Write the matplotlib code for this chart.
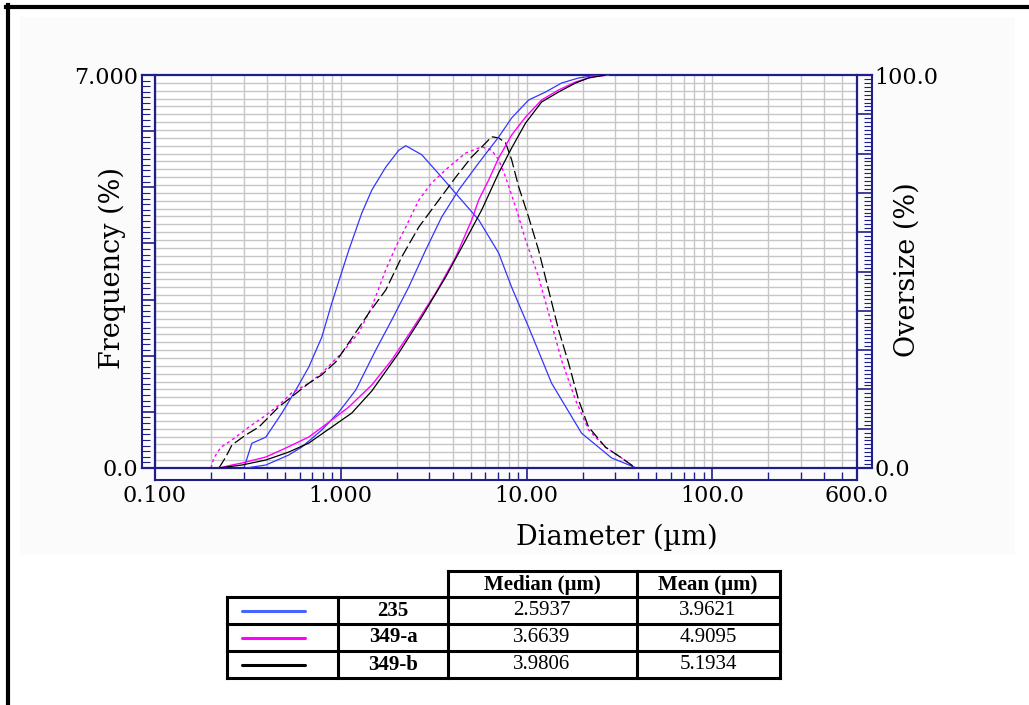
import numpy as np
import matplotlib
matplotlib.use("Agg")
import matplotlib.pyplot as plt
from matplotlib.lines import Line2D
from matplotlib.patches import Rectangle
from matplotlib.ticker import MultipleLocator, FixedFormatter, NullFormatter

# ---- data ----
blue_freq_d = [0.301, 0.332, 0.395, 0.482, 0.573, 0.673, 0.790, 0.895, 1.104, 1.297, 1.468,
               1.746, 2.051, 2.237, 2.726, 3.491, 4.310, 5.521, 7.071, 8.307, 10.25, 13.63,
               19.76, 28.64, 39.03]
blue_freq = [0.0, 0.44, 0.55, 0.98, 1.39, 1.80, 2.33, 2.94, 3.88, 4.54, 4.95,
             5.36, 5.66, 5.74, 5.58, 5.18, 4.83, 4.42, 3.83, 3.22, 2.51, 1.51,
             0.62, 0.18, 0.0]
blue_cum_d = [0.309, 0.395, 0.525, 0.617, 0.790, 0.976, 1.204, 1.543, 1.880, 2.321, 2.864,
              3.491, 4.310, 5.521, 7.071, 8.307, 10.25, 12.65, 15.42, 19.04, 24.38]
blue_cum = [0.0, 0.76, 3.31, 5.34, 9.67, 14.25, 19.85, 30.03, 37.66, 46.06, 55.47,
            63.87, 70.74, 77.61, 84.22, 89.06, 93.64, 95.67, 97.96, 99.24, 100.0]

mag_freq_d = [0.200, 0.2075, 0.2264, 0.2594, 0.3202, 0.3953, 0.4642, 0.5453, 0.6730, 0.7903,
              0.8946, 1.0125, 1.250, 1.468, 1.746, 1.976, 2.237, 2.627, 3.084, 3.807, 4.699,
              5.730, 6.484, 7.071, 7.712, 8.728, 9.876, 11.60, 13.13, 15.42, 18.34, 21.54,
              26.59, 32.42, 38.55]
mag_freq = [0.0, 0.18, 0.37, 0.50, 0.73, 0.94, 1.12, 1.34, 1.51, 1.69,
            1.87, 2.05, 2.41, 2.87, 3.53, 3.94, 4.29, 4.77, 5.08, 5.36, 5.61,
            5.72, 5.66, 5.49, 5.18, 4.65, 4.06, 3.40, 2.76, 1.92, 1.21, 0.68,
            0.37, 0.18, 0.0]
mag_cum_d = [0.2209, 0.2594, 0.2936, 0.3953, 0.5063, 0.6730, 0.8946, 1.104, 1.468, 1.880,
             2.409, 3.241, 4.153, 5.063, 5.521, 6.249, 7.071, 8.307, 9.876, 12.04, 14.86,
             18.34, 22.36, 27.60]
mag_cum = [0.0, 0.76, 1.27, 2.80, 5.09, 7.89, 12.21, 15.52, 21.12, 27.48,
           35.11, 44.53, 53.69, 63.10, 68.19, 73.28, 78.88, 84.73, 89.31, 93.64, 96.18,
           98.22, 99.49, 100.0]

blk_freq_d = [0.2209, 0.2408, 0.2594, 0.3085, 0.3624, 0.4102, 0.4642, 0.5453, 0.6730, 0.7903,
              0.9400, 1.104, 1.415, 1.746, 2.128, 2.627, 3.364, 4.153, 5.063, 6.021, 6.484,
              7.071, 7.712, 8.307, 9.058, 10.25, 11.60, 13.13, 14.86, 16.82, 19.04, 21.54,
              26.59, 32.42, 38.55]
blk_freq = [0.0, 0.20, 0.41, 0.59, 0.73, 0.91, 1.09, 1.27, 1.51, 1.66,
            1.89, 2.23, 2.76, 3.17, 3.76, 4.29, 4.77, 5.18, 5.54, 5.79, 5.90,
            5.88, 5.79, 5.49, 5.01, 4.47, 3.88, 3.17, 2.46, 1.87, 1.21, 0.73,
            0.37, 0.18, 0.0]
blk_cum_d = [0.2209, 0.2936, 0.3953, 0.5254, 0.6730, 0.8946, 1.146, 1.468, 2.051, 2.726,
             3.668, 4.699, 5.730, 7.071, 8.307, 9.876, 12.04, 14.86, 18.34, 21.54, 26.59]
blk_cum = [0.0, 0.76, 2.04, 4.07, 6.36, 10.43, 13.99, 19.59, 29.26, 38.42,
           48.60, 58.01, 65.65, 75.06, 81.42, 87.79, 93.13, 95.67, 97.96, 99.24, 100.0]

x_ticks = [0.1, 1, 10, 100, 600]
x_labels = ["0.100", "1.000", "10.00", "100.0", "600.0"]
x_minor = [0.2, 0.3, 0.4, 0.5, 0.6, 0.7, 0.8, 0.9, 2, 3, 4, 5, 6, 7, 8, 9,
           20, 30, 40, 50, 60, 70, 80, 90, 200, 300, 400, 500]

sample_names = ["235", "349-a", "349-b"]
medians = ["2.5937", "3.6639", "3.9806"]
means = ["3.9621", "4.9095", "5.1934"]
table_headers = ["Median (µm)", "Mean (µm)"]

BLUE = "#3535ff"
MAG = "#ff00ff"
NAVY = "#1f1f8c"
GRID = "#c6c6c6"
W, H = 1029, 705


def px(x, y):
    return x / W, 1 - y / H


fig = plt.figure(figsize=(W / 100, H / 100), dpi=100)
fig.patches.append(Rectangle(px(20, 555), 995 / W, 538 / H, transform=fig.transFigure,
                             fc="#fbfbfb", ec="none", zorder=-5))

ax = fig.add_axes([155 / W, 1 - 468 / H, 702 / W, 393 / H])
ax2 = ax.twinx()

# frequency curves (left axis)
ax.plot(blue_freq_d, blue_freq, color=BLUE, lw=0.9, zorder=3)
ax.plot(mag_freq_d, mag_freq, color=MAG, lw=1.0, dashes=(2.2, 2.2), zorder=3)
ax.plot(blk_freq_d, blk_freq, color="black", lw=0.9, dashes=(9, 3), zorder=3)

# cumulative curves (right axis)
ax2.plot(blue_cum_d, blue_cum, color=BLUE, lw=0.9)
ax2.plot(mag_cum_d, mag_cum, color=MAG, lw=1.0)
ax2.plot(blk_cum_d, blk_cum, color="black", lw=0.9)

ax.set_xscale("log")
ax.set_xlim(0.1, 600)
ax.set_ylim(0, 7)
ax2.set_ylim(0, 100)

# grid
ax.set_axisbelow(True)
ax.set_xticks(x_ticks)
ax.set_xticklabels(x_labels)
ax.set_xticks(x_minor, minor=True)
ax.xaxis.set_minor_formatter(NullFormatter())
ax.grid(True, which="both", axis="x", color=GRID, lw=1.0, zorder=0)
for k in range(1, 50):
    ax.axhline(7 * k / 50, color=GRID, lw=1.0, zorder=0.4)

# rulers
for s in ["top", "right"]:
    ax.spines[s].set_visible(False)
for s in ["top", "left", "bottom"]:
    ax2.spines[s].set_visible(False)
ax.spines["left"].set_position(("outward", 9.4))
ax.spines["bottom"].set_position(("outward", 8.6))
ax2.spines["right"].set_position(("outward", 10.8))
for sp in [ax.spines["left"], ax.spines["bottom"], ax2.spines["right"]]:
    sp.set_color(NAVY)
    sp.set_linewidth(1.5)

tick_font = {"family": "DejaVu Serif", "size": 16}
ax.yaxis.set_major_locator(MultipleLocator(1))
ax.yaxis.set_minor_locator(MultipleLocator(0.1))
ax.yaxis.set_major_formatter(FixedFormatter(["0.0", "", "", "", "", "", "", "7.000"]))
ax.set_yticks(range(0, 8))
ax.set_yticklabels(["0.0", "", "", "", "", "", "", "7.000"])
ax2.set_yticks(range(0, 101, 10))
ax2.set_yticklabels(["0.0"] + [""] * 9 + ["100.0"])
ax2.yaxis.set_minor_locator(MultipleLocator(1))

ax.tick_params(axis="y", which="major", direction="in", length=9.4, width=1.2, color=NAVY, pad=3)
ax.tick_params(axis="y", which="minor", direction="in", length=5.5, width=0.8, color=NAVY)
ax.tick_params(axis="x", which="major", direction="in", length=8.6, width=1.2, color=NAVY, pad=4)
ax.tick_params(axis="x", which="minor", direction="in", length=5.5, width=1.0, color=NAVY)
ax2.tick_params(axis="y", which="major", direction="in", length=10.8, width=1.2, color=NAVY, pad=2)
ax2.tick_params(axis="y", which="minor", direction="in", length=5.5, width=0.8, color=NAVY)
for lab in ax.get_xticklabels() + ax.get_yticklabels() + ax2.get_yticklabels():
    lab.set_fontfamily(tick_font["family"])
    lab.set_fontsize(tick_font["size"])

# plot box and ruler boxes
lx = -13 / 702
rx = 1 + 15 / 702
by = -12 / 393
frame = dict(transform=ax.transAxes, color=NAVY, lw=1.6, clip_on=False, zorder=5)
ax.plot([lx, rx], [1, 1], **frame)
ax.plot([lx, rx], [0, 0], **frame)
ax.plot([0, 0], [by, 1], **frame)
ax.plot([1, 1], [by, 1], **frame)

fig.text(*px(112, 268), "Frequency (%)", rotation=90, ha="center", va="center",
         family="DejaVu Serif", fontsize=19.5)
fig.text(*px(907, 270), "Oversize (%)", rotation=90, ha="center", va="center",
         family="DejaVu Serif", fontsize=19.5)
fig.text(*px(617, 537), "Diameter (µm)", ha="center", va="center",
         family="DejaVu Serif", fontsize=19.5)

# page border
fig.add_artist(Line2D([6 / W, 1], [1 - 7 / H] * 2, transform=fig.transFigure, color="black", lw=3))
fig.add_artist(Line2D([8 / W] * 2, [0, 1 - 5 / H], transform=fig.transFigure, color="black", lw=3))

# summary table
cols = [227, 338, 448, 637, 780]
rows = [597, 624, 651, 678]
tb = dict(transform=fig.transFigure, color="black", lw=2.2, solid_capstyle="projecting")


def hline(x0, x1, y):
    fig.add_artist(Line2D([x0 / W, x1 / W], [1 - y / H] * 2, **tb))


def vline(x, y0, y1):
    fig.add_artist(Line2D([x / W] * 2, [1 - y0 / H, 1 - y1 / H], **tb))


hline(448, 780, 571)
for y in rows:
    hline(227, 780, y)
vline(227, 597, 678)
vline(338, 597, 678)
for x in [448, 637, 780]:
    vline(x, 571, 678)

tfont = dict(family="Liberation Serif", fontsize=15, ha="center", va="center")
fig.text(*px(542, 585), table_headers[0], fontweight="bold", **tfont)
fig.text(*px(708, 585), table_headers[1], fontweight="bold", **tfont)
sample_colors = ["#4466ff", MAG, "black"]
for i in range(3):
    yc = (rows[i] + rows[i + 1]) / 2
    fig.add_artist(Line2D([242 / W, 305 / W], [1 - yc / H] * 2, transform=fig.transFigure,
                          color=sample_colors[i], lw=2.2, solid_capstyle="round"))
    fig.text(*px(393, yc), sample_names[i], fontweight="bold", **tfont)
    fig.text(*px(542, yc), medians[i], **tfont)
    fig.text(*px(708, yc), means[i], **tfont)

fig.savefig("out.png", dpi=100)
